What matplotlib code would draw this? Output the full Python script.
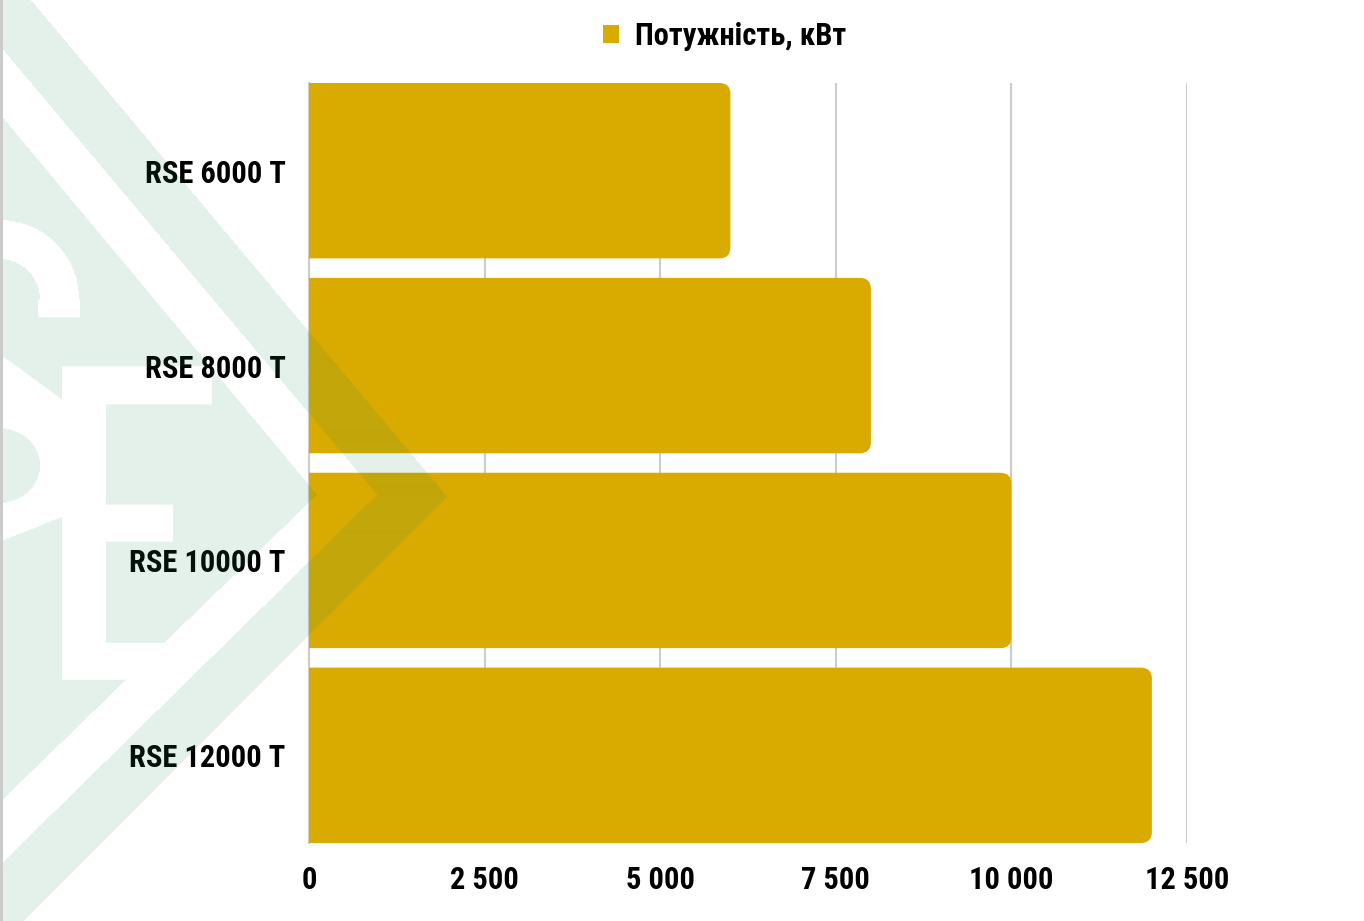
import numpy as np
import matplotlib
matplotlib.use("Agg")
import matplotlib.pyplot as plt
from matplotlib.patches import FancyBboxPatch

plt.rcParams["font.family"] = ["Roboto Condensed", "Liberation Sans Narrow", "DejaVu Sans"]
plt.rcParams["font.weight"] = "bold"

# дані
models = ["RSE 6000 T", "RSE 8000 T", "RSE 10000 T", "RSE 12000 T"]
power = [6000, 8000, 10000, 12000]
xticks = [0, 2500, 5000, 7500, 10000, 12500]
xtick_labels = ["0", "2 500", "5 000", "7 500", "10 000", "12 500"]
series_name = "Потужність, кВт"

GOLD = "#D9AB00"
W, H = 1364, 921

fig = plt.figure(figsize=(W / 100, H / 100), dpi=100)
ax = fig.add_axes([309 / W, (H - 843) / H, 878 / W, 760 / H])

bars = ax.barh(models, power, height=0.9, color=GOLD, zorder=3)
ax.set_ylim(3.45, -0.45)
ax.set_xlim(0, 12500)

# закруглені праві кути
xu = 12500 / 878.0
yu = 3.9 / 760.0
r = 11 * xu
for b in bars:
    x0, y0, w, h = b.get_x(), b.get_y(), b.get_width(), b.get_height()
    p = FancyBboxPatch((x0 - 3 * r, y0), w + 3 * r, h,
                       boxstyle="round,pad=0,rounding_size=%f" % r,
                       mutation_aspect=yu / xu, fc=GOLD, ec="none", zorder=3)
    ax.add_patch(p)
    b.remove()

ax.set_xticks(xticks)
ax.set_xticklabels(xtick_labels)
ax.tick_params(axis="both", length=0, labelsize=22)
ax.tick_params(axis="y", pad=17)
ax.tick_params(axis="x", pad=16)
ax.grid(axis="x", color="#CCCCCC", lw=1.5, zorder=0)
for s in ["top", "right", "bottom"]:
    ax.spines[s].set_visible(False)
ax.spines["left"].set_color("#CCCCCC")
ax.spines["left"].set_linewidth(1.5)
ax.set_facecolor("none")

leg = fig.legend([bars[0]], [series_name], loc="center", bbox_to_anchor=(725 / W, 1 - 36 / H),
                 frameon=False, fontsize=22, handlelength=0.5, handleheight=0.5,
                 handletextpad=0.55)

# водяний знак (логотип) поверх усього, напівпрозорий
yy, xx = np.mgrid[0:H, 0:W] + 0.5
outer = (yy > -36 + 1.1924 * xx) & (yy < 945 - 1.0022 * xx)
stripe = (yy > 47 + 1.188 * xx) & (yy < 865 - 0.981 * xx)
inner = (yy > 115 + 1.199 * xx) & (yy < 802 - 0.968 * xx)
band = (outer & ~stripe) | inner

rr = np.hypot(xx, yy - 300)
s_top = (rr > 40) & (rr < 79) & (yy < 300) | ((xx > 38) & (xx < 80) & (yy >= 300) & (yy < 318))
s_low = (xx < 62) & (yy > 355 + 0.726 * xx) & (yy < 542 - 0.4 * xx)
counter = ((xx / 40.0) ** 2 + ((yy - 466) / 37.0) ** 2) < 1
e_shape = (((xx > 62) & (xx < 212) & (yy > 367) & (yy < 405)) |
           ((xx > 62) & (xx < 106) & (yy > 367) & (yy < 680)) |
           ((xx > 106) & (xx < 173) & (yy > 505) & (yy < 542)) |
           ((xx > 62) & (xx < 165) & (yy > 643) & (yy < 680)))
letters = s_top | (s_low & ~counter) | e_shape
mask = band & ~letters

img = np.zeros((H, W, 4))
img[..., 0] = 30 / 255
img[..., 1] = 130 / 255
img[..., 2] = 80 / 255
img[..., 3] = 0.12 * mask
ov = fig.add_axes([0, 0, 1, 1], zorder=10)
ov.imshow(img, extent=(0, W, H, 0), interpolation="antialiased")
ov.set_xlim(0, W)
ov.set_ylim(H, 0)
ov.axis("off")
ov.axvline(1, color="#C8C8C8", lw=2)

fig.savefig("out.png", dpi=100)
